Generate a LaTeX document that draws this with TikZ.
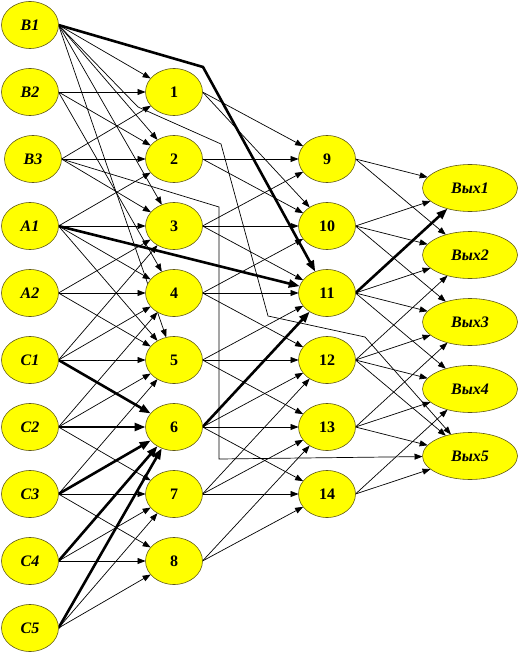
\documentclass[tikz,border=0pt]{standalone}
\usepackage{fontspec}
\setmainfont{Liberation Serif}
\usetikzlibrary{positioning, arrows.meta, shapes.geometric, backgrounds}
\definecolor{cellfill}{RGB}{255,255,0}
\definecolor{cellline}{RGB}{96,88,24}
\tikzset{
    cell/.style={
        ellipse, draw=cellline, line width=0.6pt, fill=cellfill,
        minimum width=57pt, minimum height=47pt,
        inner sep=0pt, outer sep=0pt,
        font=\fontsize{16}{18}\selectfont\bfseries
    },
    inp/.style={cell, font=\fontsize{16}{18}\selectfont\bfseries\itshape},
    outp/.style={inp, minimum width=95pt},
    pipe/.style={
        -{Triangle[length=8pt, width=6pt]},
        line width=0.7pt, draw=black
    },
    heavy/.style={
        -{Triangle[length=11pt, width=8pt]},
        line width=2.6pt, draw=black
    },
}

\begin{document}
\begin{tikzpicture}[x=1pt, y=-1pt, node distance=20pt]
\useasboundingbox (0,0) rectangle (521,655);

% ---- Input column ----
\node[inp] (b1) at (30,25) {B1};
\node[inp, below=of b1] (b2) {B2};
\node[inp, below=of b2, xshift=3pt] (b3) {B3};
\node[inp, below=of b3, xshift=-3pt] (a1) {A1};
\node[inp, below=of a1] (a2) {A2};
\node[inp, below=of a2] (c1) {C1};
\node[inp, below=of c1] (c2) {C2};
\node[inp, below=of c2] (c3) {C3};
\node[inp, below=of c3] (c4) {C4};
\node[inp, below=of c4] (c5) {C5};

% ---- First hidden column ----
\node[cell, right=87pt of b2] (n1) {1};
\node[cell, below=of n1] (n2) {2};
\node[cell, below=of n2] (n3) {3};
\node[cell, below=of n3] (n4) {4};
\node[cell, below=of n4] (n5) {5};
\node[cell, below=of n5] (n6) {6};
\node[cell, below=of n6] (n7) {7};
\node[cell, below=of n7] (n8) {8};

% ---- Second hidden column ----
\node[cell, right=96pt of n2] (n9) {9};
\node[cell, below=of n9]  (n10) {10};
\node[cell, below=of n10] (n11) {11};
\node[cell, below=of n11] (n12) {12};
\node[cell, below=of n12] (n13) {13};
\node[cell, below=of n13] (n14) {14};

% ---- Output column ----
\node[outp] (out1) at (470,188) {Вых1};
\node[outp, below=of out1] (out2) {Вых2};
\node[outp, below=of out2] (out3) {Вых3};
\node[outp, below=of out3] (out4) {Вых4};
\node[outp, below=of out4] (out5) {Вых5};

% ---- Bends of the long links ----
\coordinate (b1bend) at (203,67);
\coordinate (b1a) at (138,107);
\coordinate (b1b) at (221,144);
\coordinate (b1c) at (268,316);
\coordinate (b1d) at (365,337);
\coordinate (b3bend) at (219,207);
\coordinate (b3low) at (219,459);

\begin{scope}[on background layer]
    % inputs -> first column
    \draw[pipe] (b1.east) -- (n1);
    \draw[pipe] (b1.east) -- (n2);
    \draw[pipe] (b1.east) -- (n3);
    \draw[pipe] (b1.east) -- (n5);
    \draw[heavy] (b1.east) -- (b1bend) -- (n11);
    \draw[pipe] (b1.east) -- (b1a) -- (b1b) -- (b1c) -- (b1d) -- (out5);
    \draw[pipe] (b2.east) -- (n1);
    \draw[pipe] (b2.east) -- (n2);
    \draw[pipe] (b2.east) -- (n4);
    \draw[pipe] (b3.east) -- (n1);
    \draw[pipe] (b3.east) -- (n2);
    \draw[pipe] (b3.east) -- (n3);
    \draw[pipe] (b3.east) -- (b3bend) -- (b3low) -- (out5);
    \draw[pipe] (a1.east) -- (n2);
    \draw[pipe] (a1.east) -- (n3);
    \draw[pipe] (a1.east) -- (n4);
    \draw[pipe] (a1.east) -- (n5);
    \draw[heavy] (a1.east) -- (n11);
    \draw[pipe] (a2.east) -- (n3);
    \draw[pipe] (a2.east) -- (n4);
    \draw[pipe] (a2.east) -- (n5);
    \draw[pipe] (c1.east) -- (n3);
    \draw[pipe] (c1.east) -- (n4);
    \draw[pipe] (c1.east) -- (n5);
    \draw[heavy] (c1.east) -- (n6);
    \draw[pipe] (c2.east) -- (n4);
    \draw[pipe] (c2.east) -- (n5);
    \draw[heavy] (c2.east) -- (n6);
    \draw[pipe] (c2.east) -- (n7);
    \draw[pipe] (c3.east) -- (n5);
    \draw[heavy] (c3.east) -- (n6);
    \draw[pipe] (c3.east) -- (n7);
    \draw[pipe] (c3.east) -- (n8);
    \draw[heavy] (c4.east) -- (n6);
    \draw[pipe] (c4.east) -- (n7);
    \draw[pipe] (c4.east) -- (n8);
    \draw[heavy] (c5.east) -- (n6);
    \draw[pipe] (c5.east) -- (n7);
    \draw[pipe] (c5.east) -- (n8);
    % first column -> second column
    \draw[pipe] (n1.east) -- (n9);
    \draw[pipe] (n1.east) -- (n10);
    \draw[pipe] (n2.east) -- (n9);
    \draw[pipe] (n2.east) -- (n10);
    \draw[pipe] (n3.east) -- (n9);
    \draw[pipe] (n3.east) -- (n10);
    \draw[pipe] (n3.east) -- (n11);
    \draw[pipe] (n4.east) -- (n10);
    \draw[pipe] (n4.east) -- (n11);
    \draw[pipe] (n4.east) -- (n12);
    \draw[pipe] (n5.east) -- (n11);
    \draw[pipe] (n5.east) -- (n12);
    \draw[pipe] (n5.east) -- (n13);
    \draw[heavy] (n6.east) -- (n11);
    \draw[pipe] (n6.east) -- (n12);
    \draw[pipe] (n6.east) -- (n13);
    \draw[pipe] (n6.east) -- (n14);
    \draw[pipe] (n7.east) -- (n12);
    \draw[pipe] (n7.east) -- (n13);
    \draw[pipe] (n7.east) -- (n14);
    \draw[pipe] (n8.east) -- (n13);
    \draw[pipe] (n8.east) -- (n14);
    % second column -> outputs
    \draw[pipe] (n9.east) -- (out1);
    \draw[pipe] (n9.east) -- (out2);
    \draw[pipe] (n10.east) -- (out1);
    \draw[pipe] (n10.east) -- (out2);
    \draw[pipe] (n10.east) -- (out3);
    \draw[heavy] (n11.east) -- (out1);
    \draw[pipe] (n11.east) -- (out2);
    \draw[pipe] (n11.east) -- (out3);
    \draw[pipe] (n11.east) -- (out4);
    \draw[pipe] (n12.east) -- (out2);
    \draw[pipe] (n12.east) -- (out3);
    \draw[pipe] (n12.east) -- (out4);
    \draw[pipe] (n12.east) -- (out5);
    \draw[pipe] (n13.east) -- (out3);
    \draw[pipe] (n13.east) -- (out4);
    \draw[pipe] (n13.east) -- (out5);
    \draw[pipe] (n14.east) -- (out4);
    \draw[pipe] (n14.east) -- (out5);
\end{scope}

\end{tikzpicture}
\end{document}
